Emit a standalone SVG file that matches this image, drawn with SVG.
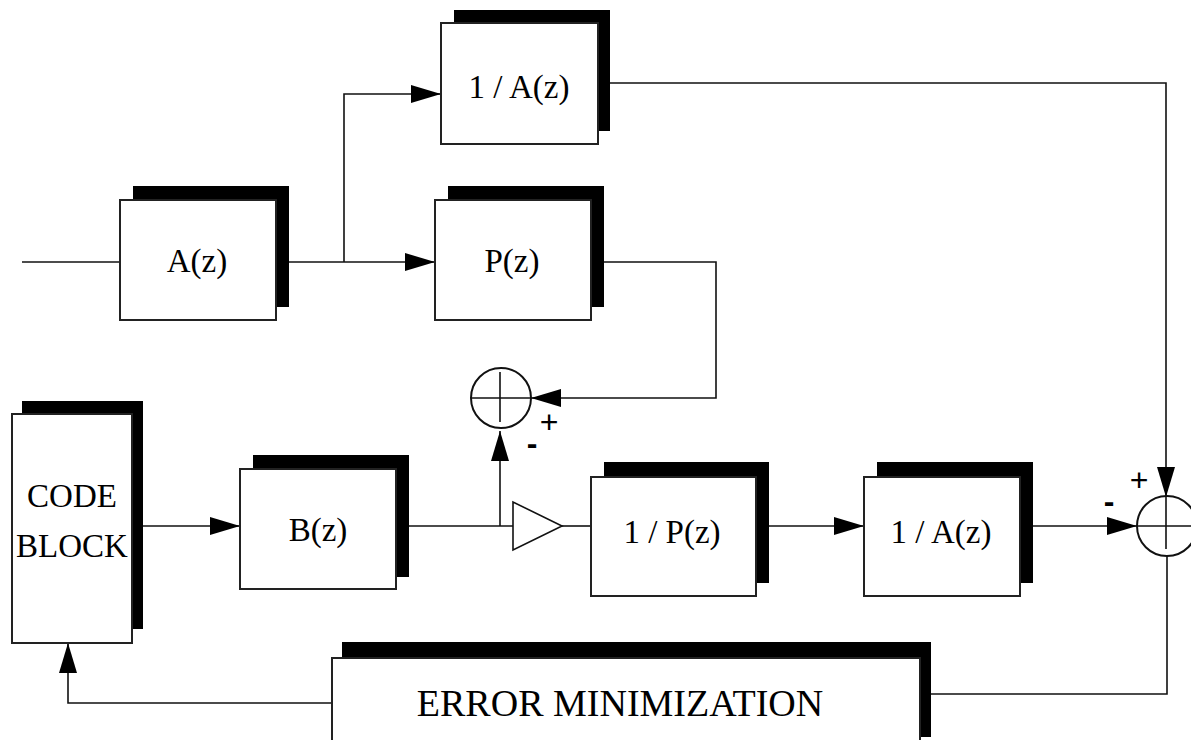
<svg xmlns="http://www.w3.org/2000/svg" width="1191" height="740" viewBox="0 0 1191 740">
<style>
.sh{fill:#000;stroke:none}
.fr{fill:#fff;stroke:#222;stroke-width:2}
.t{font-family:"Liberation Serif","Times New Roman",serif;font-size:33px;fill:#000;text-anchor:middle}
.ln{fill:none;stroke:#111;stroke-width:1.6}
.sg{font-family:"Liberation Sans",Arial,sans-serif;font-size:32px;fill:#000;text-anchor:middle}
.mn{font-weight:bold}
</style>
<defs>
<marker id="ah" markerUnits="userSpaceOnUse" markerWidth="30" markerHeight="18" refX="30" refY="9" orient="auto">
<path d="M0,0 L30,9 L0,18 z" fill="#000"/>
</marker>
</defs>
<rect width="1191" height="740" fill="#fff"/>
<g id="connectors">
<path class="ln" d="M22,262 H120"/>
<path class="ln" d="M289,262 H435" marker-end="url(#ah)"/>
<path class="ln" d="M344,262 V94 H441" marker-end="url(#ah)"/>
<path class="ln" d="M610,83 H1166 V497" marker-end="url(#ah)"/>
<path class="ln" d="M604,262 H716 V398 H531" marker-end="url(#ah)"/>
<path class="ln" d="M143,526 H240" marker-end="url(#ah)"/>
<path class="ln" d="M409,526 H513"/>
<path class="ln" d="M500,526 V431" marker-end="url(#ah)"/>
<path class="ln" d="M562,526 H591"/>
<path class="ln" d="M769,526 H864" marker-end="url(#ah)"/>
<path class="ln" d="M1033,526 H1137" marker-end="url(#ah)"/>
<path class="ln" d="M1167,556 V694 H931"/>
<path class="ln" d="M332,703 H68 V643" marker-end="url(#ah)"/>
</g>
<g id="node-az">
<rect class="sh" x="133" y="186" width="156" height="121"/>
<rect class="fr" x="120" y="200" width="156" height="120"/>
<text class="t" x="197" y="272">A(z)</text>
</g>
<g id="node-inv-az-top">
<rect class="sh" x="454" y="10" width="156" height="121"/>
<rect class="fr" x="441" y="23" width="157" height="121"/>
<text class="t" x="519" y="98">1 / A(z)</text>
</g>
<g id="node-pz">
<rect class="sh" x="448" y="186" width="156" height="121"/>
<rect class="fr" x="435" y="200" width="156" height="120"/>
<text class="t" x="512" y="272">P(z)</text>
</g>
<g id="node-codeblock">
<rect class="sh" x="22" y="401" width="121" height="228"/>
<rect class="fr" x="12" y="414" width="120" height="229"/>
<text class="t" x="72" y="507">CODE</text>
<text class="t" x="72" y="557">BLOCK</text>
</g>
<g id="node-bz">
<rect class="sh" x="253" y="455" width="156" height="122"/>
<rect class="fr" x="240" y="469" width="156" height="120"/>
<text class="t" x="318" y="541">B(z)</text>
</g>
<g id="node-gain">
<polygon points="513,502 513,550 562,526" fill="#fff" stroke="#111" stroke-width="1.6"/>
</g>
<g id="node-inv-pz">
<rect class="sh" x="604" y="462" width="165" height="121"/>
<rect class="fr" x="591" y="477" width="165" height="119"/>
<text class="t" x="672" y="543">1 / P(z)</text>
</g>
<g id="node-inv-az-bottom">
<rect class="sh" x="877" y="462" width="156" height="121"/>
<rect class="fr" x="864" y="477" width="156" height="119"/>
<text class="t" x="941" y="543">1 / A(z)</text>
</g>
<g id="node-sum1">
<circle cx="501" cy="398" r="30" fill="none" stroke="#111" stroke-width="2"/>
<path class="ln" d="M471,398 H531 M500,372 V422" stroke-width="2"/>
<text class="sg" x="549" y="433">+</text>
<text class="sg mn" x="532" y="454">-</text>
</g>
<g id="node-sum2">
<circle cx="1167" cy="526" r="30" fill="none" stroke="#111" stroke-width="2"/>
<path class="ln" d="M1137,526 H1197 M1166,497 V549" stroke-width="2"/>
<text class="sg" x="1139" y="491">+</text>
<text class="sg mn" x="1109" y="512">-</text>
</g>
<g id="node-error">
<rect class="sh" x="342" y="642" width="589" height="95"/>
<rect class="fr" x="332" y="658" width="588" height="100"/>
<text class="t" x="620" y="716" style="font-size:38px">ERROR MINIMIZATION</text>
</g>
</svg>
